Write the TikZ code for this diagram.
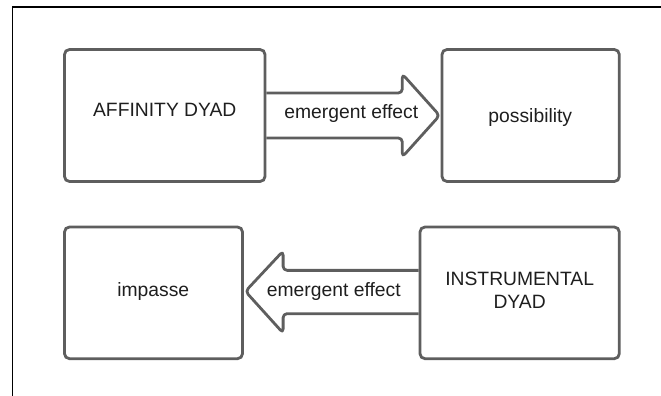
\documentclass[tikz,border=0pt]{standalone}
\usepackage{fontspec}
\setmainfont{Liberation Sans}
\usetikzlibrary{calc}
\definecolor{edgegray}{HTML}{5E5E5E}
\definecolor{txt}{HTML}{1E1E1E}
\begin{document}
\begin{tikzpicture}[x=1pt,y=-1pt,
  box/.style={draw=edgegray,line width=2.8pt,rounded corners=5pt,inner sep=0pt},
  arrowshape/.style={draw=edgegray,line width=2.8pt,rounded corners=4pt,line join=round},
  lbl/.style={font=\fontsize{19.3}{22.6}\selectfont,text=txt,inner sep=0pt,anchor=base}]
\useasboundingbox (0,0) rectangle (661,396);
% outer frame (top and left edges only)
\draw[line width=1.6pt] (661,7.3) -- (12.3,7.3) -- (12.3,396);
% boxes
\node[box,minimum width=200.5pt,minimum height=132pt] (b1) at (164.75,115.5) {};
\node[box,minimum width=177.3pt,minimum height=132pt] (b2) at (530.65,115.5) {};
\node[box,minimum width=178pt,minimum height=131.7pt] (b3) at (153.5,292.85) {};
\node[box,minimum width=199.3pt,minimum height=131.7pt] (b4) at (519.65,292.85) {};
% box texts
\node[lbl] (t1) at (164.75,116.7) {AFFINITY DYAD};
\node[lbl] (t2) at (530.3,122) {possibility};
\node[lbl] (t3) at (153.3,296.7) {impasse};
\node[lbl] (t4a) at (519.65,285.7) {INSTRUMENTAL};
\node[lbl] (t4b) at (519.65,308.3) {DYAD};
% block arrows
\draw[arrowshape] ($(b1.east)+(0,-22.5)$) -- ($(b2.west)+(-38.3,-22.5)$)
  -- ($(b2.west)+(-38.3,-41.5)$) -- ($(b2.west)+(-1,0)$)
  -- ($(b2.west)+(-38.3,41.5)$) -- ($(b2.west)+(-38.3,22.5)$)
  -- ($(b1.east)+(0,22.5)$);
\draw[arrowshape] ($(b4.west)+(0,-22.5)$) -- ($(b3.east)+(39.2,-22.5)$)
  -- ($(b3.east)+(39.2,-41.8)$) -- ($(b3.east)+(1.5,-1.5)$)
  -- ($(b3.east)+(39.2,40.2)$) -- ($(b3.east)+(39.2,20.8)$)
  -- ($(b4.west)+(0,20.8)$);
% arrow labels
\node[lbl] (l1) at (351.3,118.3) {emergent effect};
\node[lbl] (l2) at (333.8,296.7) {emergent effect};
\end{tikzpicture}
\end{document}
